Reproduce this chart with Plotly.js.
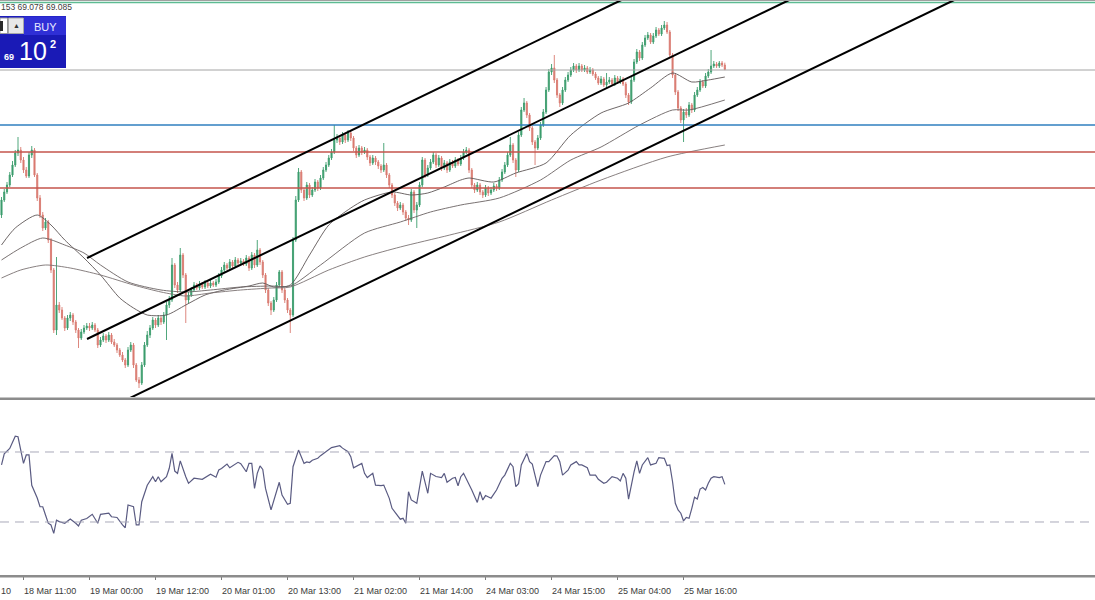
<!DOCTYPE html>
<html><head><meta charset="utf-8">
<script src="https://cdn.plot.ly/plotly-3.0.1.min.js"></script>
<style>html,body{margin:0;padding:0;background:#fff}#chart{width:1095px;height:600px}</style>
</head><body><div id="chart"></div>
<script>
// ---- 30-minute bars (index 0 = first visible bar) ----
const openP = [
67.63,67.78,67.86,67.93,68.03,68.13,68.25,68.28,68.18,68.08,
68.02,68.23,68.28,68.03,67.80,67.63,67.50,67.56,67.38,67.08,
66.48,66.73,66.68,66.60,66.50,66.60,66.63,66.56,66.48,66.40,
66.46,66.50,66.52,66.50,66.53,66.48,66.33,66.38,66.42,66.38,
66.43,66.36,66.33,66.28,66.23,66.18,66.13,66.28,66.33,66.13,
65.98,65.95,66.13,66.33,66.43,66.50,66.58,66.53,66.60,66.56,
66.63,66.73,66.78,67.13,66.93,66.88,67.23,67.03,66.78,66.83,
66.88,66.93,66.90,66.94,66.91,66.95,66.92,66.95,66.93,66.96,
67.02,67.08,67.13,67.10,67.16,67.12,67.18,67.15,67.17,67.14,
67.20,67.10,67.23,67.13,67.28,67.16,67.03,66.88,66.75,66.68,
66.78,66.93,67.06,66.88,66.78,66.68,66.63,67.38,67.78,68.06,
67.88,67.80,67.93,67.83,67.88,67.96,67.90,68.00,68.08,68.13,
68.20,68.26,68.38,68.40,68.36,68.43,68.38,68.45,68.40,68.30,
68.23,68.30,68.26,68.28,68.21,68.15,68.20,68.16,68.12,68.08,
68.13,68.03,67.93,67.83,67.75,67.70,67.73,67.66,67.60,67.58,
67.86,67.68,67.73,67.93,68.18,68.03,68.10,68.16,68.23,68.13,
68.20,68.10,68.15,68.08,68.16,68.12,68.18,68.14,68.20,68.26,
68.28,68.08,67.93,67.88,67.93,67.86,67.83,67.90,67.85,67.88,
67.92,67.90,67.98,68.06,68.13,68.23,68.33,68.18,68.08,68.43,
68.68,68.75,68.63,68.50,68.36,68.30,68.40,68.53,68.66,68.88,
69.06,69.10,68.98,68.83,68.75,68.88,68.98,69.03,69.08,69.12,
69.08,69.12,69.08,69.10,69.06,69.08,69.04,69.00,68.95,68.99,
68.93,68.96,68.98,68.94,69.00,68.96,68.99,68.94,68.83,68.76,
68.98,69.16,69.26,69.20,69.33,69.40,69.43,69.36,69.42,69.48,
69.44,69.50,69.53,69.46,69.23,69.03,68.86,68.70,68.58,68.66,
68.63,68.73,68.68,68.83,68.88,68.96,68.92,69.02,69.06,69.12,
69.14,69.12,69.15,69.13];
const highP = [
67.81,67.89,67.96,68.06,68.17,68.28,68.41,68.31,68.21,68.11,
68.26,68.32,68.30,68.05,67.83,67.66,67.60,67.58,67.40,67.10,
67.21,66.76,66.71,66.62,66.63,66.66,66.65,66.58,66.50,66.49,
66.53,66.55,66.55,66.56,66.55,66.50,66.41,66.45,66.44,66.46,
66.45,66.39,66.35,66.30,66.26,66.20,66.31,66.36,66.35,66.15,
66.01,66.16,66.36,66.47,66.53,66.61,66.60,66.63,66.62,66.66,
66.76,66.82,67.20,67.15,66.96,67.30,67.25,67.05,66.86,66.91,
66.96,66.95,66.97,66.96,66.98,66.97,66.98,66.97,66.99,67.05,
67.11,67.16,67.15,67.19,67.18,67.21,67.20,67.20,67.19,67.23,
67.22,67.26,67.25,67.38,67.30,67.18,67.05,66.90,66.77,66.81,
66.96,67.08,67.08,66.90,66.80,66.70,67.41,67.82,68.10,68.08,
67.90,67.96,67.95,67.91,67.99,67.98,68.03,68.11,68.16,68.23,
68.29,68.53,68.44,68.42,68.46,68.45,68.48,68.47,68.42,68.32,
68.33,68.32,68.31,68.30,68.23,68.23,68.22,68.18,68.14,68.35,
68.15,68.05,67.95,67.85,67.77,67.76,67.75,67.68,67.63,67.89,
67.88,67.76,67.96,68.21,68.20,68.13,68.19,68.26,68.25,68.23,
68.22,68.18,68.17,68.19,68.18,68.21,68.20,68.23,68.29,68.31,
68.30,68.10,67.95,67.96,67.95,67.88,67.93,67.92,67.91,67.95,
67.94,68.01,68.09,68.16,68.26,68.41,68.35,68.20,68.46,68.71,
68.80,68.77,68.65,68.52,68.38,68.43,68.56,68.69,68.91,69.09,
69.14,69.23,69.00,68.85,68.91,69.01,69.06,69.11,69.15,69.14,
69.15,69.14,69.13,69.12,69.11,69.10,69.06,69.02,69.02,69.01,
69.05,69.01,69.00,69.03,69.02,69.02,69.01,68.96,68.85,69.01,
69.19,69.29,69.28,69.36,69.43,69.46,69.45,69.45,69.51,69.50,
69.53,69.57,69.56,69.48,69.25,69.05,68.88,68.72,68.69,68.70,
68.76,68.75,68.86,68.91,68.99,68.98,69.05,69.09,69.28,69.17,
69.16,69.17,69.17,69.153];
const lowP = [
67.60,67.76,67.84,67.91,68.01,68.11,68.22,68.15,68.05,68.00,
68.00,68.20,68.01,67.77,67.60,67.47,67.48,67.35,67.05,66.45,
66.43,66.65,66.58,66.47,66.48,66.57,66.53,66.45,66.30,66.38,
66.44,66.48,66.47,66.48,66.46,66.30,66.31,66.36,66.35,66.36,
66.34,66.31,66.25,66.21,66.16,66.10,66.11,66.26,66.10,65.96,
65.90,65.93,66.11,66.31,66.40,66.48,66.50,66.51,66.53,66.54,
66.38,66.70,66.76,66.90,66.85,66.86,67.00,66.55,66.75,66.81,
66.86,66.88,66.88,66.89,66.89,66.90,66.90,66.91,66.91,66.94,
67.00,67.06,67.08,67.08,67.10,67.10,67.13,67.13,67.12,67.12,
67.07,67.08,67.10,67.11,67.13,67.00,66.85,66.72,66.63,66.66,
66.76,66.91,66.85,66.75,66.65,66.45,66.61,67.36,67.76,67.85,
67.77,67.78,67.80,67.81,67.86,67.87,67.88,67.98,68.06,68.11,
68.18,68.24,68.35,68.33,68.34,68.35,68.36,68.37,68.27,68.20,
68.21,68.23,68.24,68.18,68.12,68.13,68.13,68.09,68.05,68.06,
68.00,67.90,67.80,67.72,67.67,67.68,67.63,67.57,67.53,67.56,
67.65,67.50,67.71,67.91,68.00,68.01,68.08,68.14,68.10,68.11,
68.07,68.08,68.05,68.06,68.10,68.10,68.12,68.12,68.18,68.24,
68.05,67.90,67.85,67.86,67.83,67.80,67.81,67.82,67.83,67.86,
67.87,67.88,67.96,68.04,68.11,68.21,68.15,68.01,68.06,68.41,
68.66,68.60,68.47,68.33,68.13,68.28,68.38,68.51,68.64,68.86,
69.03,68.95,68.80,68.71,68.73,68.86,68.96,69.01,69.06,69.05,
69.06,69.06,69.06,69.04,69.04,69.02,68.98,68.93,68.93,68.91,
68.90,68.94,68.92,68.92,68.94,68.94,68.92,68.80,68.73,68.74,
68.96,69.14,69.17,69.18,69.31,69.38,69.34,69.34,69.40,69.42,
69.42,69.48,69.44,69.20,69.00,68.83,68.67,68.55,68.36,68.60,
68.61,68.65,68.66,68.81,68.86,68.90,68.90,69.00,69.04,69.10,
69.10,69.10,69.11,69.078];
const closeP = [
67.78,67.86,67.93,68.03,68.13,68.25,68.28,68.18,68.08,68.02,
68.23,68.28,68.03,67.80,67.63,67.50,67.56,67.38,67.08,66.48,
66.73,66.68,66.60,66.50,66.60,66.63,66.56,66.48,66.40,66.46,
66.50,66.52,66.50,66.53,66.48,66.33,66.38,66.42,66.38,66.43,
66.36,66.33,66.28,66.23,66.18,66.13,66.28,66.33,66.13,65.98,
65.95,66.13,66.33,66.43,66.50,66.58,66.53,66.60,66.56,66.63,
66.73,66.78,67.13,66.93,66.88,67.23,67.03,66.78,66.83,66.88,
66.93,66.90,66.94,66.91,66.95,66.92,66.95,66.93,66.96,67.02,
67.08,67.13,67.10,67.16,67.12,67.18,67.15,67.17,67.14,67.20,
67.10,67.23,67.13,67.28,67.16,67.03,66.88,66.75,66.68,66.78,
66.93,67.06,66.88,66.78,66.68,66.63,67.38,67.78,68.06,67.88,
67.80,67.93,67.83,67.88,67.96,67.90,68.00,68.08,68.13,68.20,
68.26,68.38,68.40,68.36,68.43,68.38,68.45,68.40,68.30,68.23,
68.30,68.26,68.28,68.21,68.15,68.20,68.16,68.12,68.08,68.13,
68.03,67.93,67.83,67.75,67.70,67.73,67.66,67.60,67.58,67.86,
67.68,67.73,67.93,68.18,68.03,68.10,68.16,68.23,68.13,68.20,
68.10,68.15,68.08,68.16,68.12,68.18,68.14,68.20,68.26,68.28,
68.08,67.93,67.88,67.93,67.86,67.83,67.90,67.85,67.88,67.92,
67.90,67.98,68.06,68.13,68.23,68.33,68.18,68.08,68.43,68.68,
68.75,68.63,68.50,68.36,68.30,68.40,68.53,68.66,68.88,69.06,
69.10,68.98,68.83,68.75,68.88,68.98,69.03,69.08,69.12,69.08,
69.12,69.08,69.10,69.06,69.08,69.04,69.00,68.95,68.99,68.93,
68.96,68.98,68.94,69.00,68.96,68.99,68.94,68.83,68.76,68.98,
69.16,69.26,69.20,69.33,69.40,69.43,69.36,69.42,69.48,69.44,
69.50,69.53,69.46,69.23,69.03,68.86,68.70,68.58,68.66,68.63,
68.73,68.68,68.83,68.88,68.96,68.92,69.02,69.06,69.12,69.14,
69.12,69.15,69.13,69.085];

// ---- time axis labels (bar index of each label) ----
const tickBars = [8,32,56,80,104,128,152,176,200,224,248];
const tickLabels = ["18 Mar 11:00","19 Mar 00:00","19 Mar 12:00","20 Mar 01:00","20 Mar 13:00","21 Mar 02:00","21 Mar 14:00","24 Mar 03:00","24 Mar 15:00","25 Mar 04:00","25 Mar 16:00"];

// ---- moving averages (sampled) ----
const ma1Bars = [0,5,13,18,23,30,36,43,48,53,60,67,74,81,90,95,99,105,112,119,127,132,142,149,155,161,167,170,179,187,198,207,218,228,236,244,251,257,263];
const ma1Vals = [67.33,67.50,67.63,67.53,67.38,67.20,67.03,66.80,66.70,66.63,66.63,66.73,66.83,66.88,66.92,66.95,66.91,66.93,67.23,67.53,67.70,67.78,67.86,67.83,67.85,67.91,67.98,68.00,67.96,68.05,68.15,68.43,68.65,68.75,68.90,69.05,68.96,68.98,69.01];
const ma2Bars = [0,7,15,23,30,36,46,58,67,76,87,98,105,116,132,145,156,167,181,196,207,218,232,244,250,263];
const ma2Vals = [67.18,67.30,67.40,67.33,67.25,67.13,66.96,66.88,66.86,66.88,66.91,66.92,66.92,67.13,67.45,67.56,67.66,67.73,67.80,67.98,68.18,68.31,68.53,68.68,68.68,68.78];
const ma3Bars = [0,7,16,25,36,48,58,67,76,87,98,105,119,132,145,163,181,200,218,242,263];
const ma3Vals = [67.00,67.08,67.13,67.10,67.03,66.93,66.86,66.82,66.85,66.88,66.90,66.91,67.08,67.21,67.31,67.43,67.56,67.78,67.98,68.21,68.33];

// ---- RSI (sampled) ----
const rsiBars = [0,1,3,5,6,8,9,10,11,13,14,15,16,17,18,19,20,21,23,25,27,28,29,31,33,35,36,39,40,42,44,45,46,48,49,50,51,53,55,56,57,58,60,61,62,63,64,65,67,68,70,73,76,78,79,80,82,83,86,87,89,90,91,92,93,94,95,96,98,99,101,102,104,105,106,108,110,111,112,113,115,116,118,120,123,124,126,127,128,130,131,132,133,135,136,138,139,141,142,145,146,147,148,149,151,153,155,156,158,160,161,162,164,165,166,167,168,171,173,174,175,176,178,180,182,183,185,186,187,188,189,191,192,193,195,196,198,199,201,202,203,204,206,207,209,210,211,213,214,216,217,219,220,222,224,225,226,227,228,230,231,232,233,235,236,238,239,241,242,243,244,245,246,247,248,249,250,251,252,253,254,255,256,257,258,259,261,262,263];
const rsiVals = [62.6,69,72,79,78.7,63.5,68.3,68.3,51,43.7,38.7,38.7,34,29.3,28.3,23.5,31,30.2,29.3,31.7,29.3,27.7,31,32,34.4,29.3,34.4,35,33,32.6,28.3,26.7,39.7,38.7,28.3,28.3,41.6,51,55.9,53,55.9,53,55.9,60.7,69.2,59.1,57.8,64.9,55.9,52.1,55,54.4,57.3,55.6,59.7,60.6,63.1,61,64.1,63.3,58.7,63.5,63.5,49.2,57.8,62,60,49.2,36.9,42.6,52.7,45.4,40.1,40.7,61.6,71.1,63.5,64.3,64,65.3,66.4,67.9,70.2,72.5,73.6,72.2,70.2,67.3,61,62.9,63.5,57.8,55.4,57.8,51.1,50.8,51.1,43.5,37.8,31.6,32.1,29.3,47.3,42.6,40.7,59.1,46.4,57.8,56,55.4,57.8,52.7,55,55.4,50.7,55.9,57.8,48.3,41.2,47.3,42.6,45.1,43.6,48.3,55,56.8,63.5,61.6,50.2,51.9,62.6,69.2,64.5,63.1,50.2,56.8,64.5,64.5,67.9,67.7,64.5,56.8,59.6,62.6,64.5,62.6,62.6,61,56.8,56.8,54.4,52.1,52.7,55.9,55,53.5,57.8,55,43.1,58.7,64.9,57.8,62.6,66.8,62.6,63.5,66.8,66.4,62.3,62.6,53,40.7,36.9,35,30.6,32.6,32.1,37.8,44.2,43.1,48.8,49.7,48.3,52.1,55,55.9,55.4,55.9,51.5];
const rsiLevels = [70, 30];

// ---- horizontal levels and channel ----
const levelPrices = [69.755, 69.08, 68.53, 68.26, 67.90];
const levelColors = ['#5dbb92', '#a4a4a4', '#2f7fbf', '#c4544c', '#c4544c'];
const channelStart = [[31.1, 67.20], [31.1, 66.39], [46.7, 65.80]];
const channelEnd   = [[225.4, 69.78], [286.4, 69.78], [346.4, 69.78]];

const W = 1095, H = 600;
const px = x => x / W, py = y => 1 - y / H;
const uiFont = '"Liberation Sans", Arial, sans-serif';
const barIdx = closeP.map((_, i) => i);

const traces = [
  {type:'candlestick', x:barIdx, open:openP, high:highP, low:lowP, close:closeP,
   xaxis:'x', yaxis:'y', whiskerwidth:0,
   increasing:{line:{color:'#3c9d6d', width:0.9}, fillcolor:'#3c9d6d'},
   decreasing:{line:{color:'#d97a70', width:0.9}, fillcolor:'#d97a70'},
   hoverinfo:'skip'},
  {type:'scatter', mode:'lines', x:ma1Bars, y:ma1Vals, xaxis:'x', yaxis:'y', line:{color:'#5e5656', width:0.9, shape:'spline', smoothing:0.7}, hoverinfo:'skip'},
  {type:'scatter', mode:'lines', x:ma2Bars, y:ma2Vals, xaxis:'x', yaxis:'y', line:{color:'#6a6262', width:0.9, shape:'spline', smoothing:0.7}, hoverinfo:'skip'},
  {type:'scatter', mode:'lines', x:ma3Bars, y:ma3Vals, xaxis:'x', yaxis:'y', line:{color:'#7a7272', width:0.9, shape:'spline', smoothing:0.7}, hoverinfo:'skip'},
  {type:'scatter', mode:'lines', x:rsiBars, y:rsiVals, xaxis:'x', yaxis:'y2', line:{color:'#5a5b82', width:1.2}, hoverinfo:'skip'}
];

const shapes = [];
levelPrices.forEach((p, k) => shapes.push({type:'line', xref:'paper', yref:'y', x0:0, x1:1, y0:p, y1:p, line:{color:levelColors[k], width: k === 1 ? 1 : 1.4}}));
channelStart.forEach((s, k) => shapes.push({type:'line', xref:'x', yref:'y', x0:s[0], y0:s[1], x1:channelEnd[k][0], y1:channelEnd[k][1], line:{color:'#000', width:2}}));
rsiLevels.forEach(v => shapes.push({type:'line', xref:'paper', yref:'y2', x0:0, x1:1, y0:v, y1:v, line:{color:'#a9a9b9', width:1, dash:'9px,6px'}}));
// panel separators and top border
shapes.push({type:'line', xref:'paper', yref:'paper', x0:0, x1:1, y0:py(0.5), y1:py(0.5), line:{color:'#a0a0a0', width:1}});
shapes.push({type:'line', xref:'paper', yref:'paper', x0:0, x1:1, y0:py(398.8), y1:py(398.8), line:{color:'#8c8c8c', width:2.5}});
shapes.push({type:'line', xref:'paper', yref:'paper', x0:0, x1:1, y0:py(576.3), y1:py(576.3), line:{color:'#8c8c8c', width:2.5}});
// one-click trading widget
const rect = (x0,y0,x1,y1,fill,lc) => ({type:'rect', xref:'paper', yref:'paper', x0:px(x0), x1:px(x1), y0:py(y1), y1:py(y0), fillcolor:fill, line:{color:lc||fill, width:lc?1:0}, layer:'above'});
shapes.push(rect(0,16,66,68,'#1d1dbd'));
shapes.push(rect(24,16.5,66,35,'#2f2fd6'));
shapes.push(rect(0,35,66,68,'#1a1ab6'));
shapes.push(rect(0,18,7.5,33.5,'#ffffff','#9a9a9a'));
shapes.push(rect(0,21,3,31,'#2a2a2a'));
shapes.push(rect(8.5,18,23.5,33.5,'#e8e8e8','#a8a8a8'));

const ann = (x,y,text,size,color,opts) => Object.assign({xref:'paper', yref:'paper', x:px(x), y:py(y), text, showarrow:false, xanchor:'center', yanchor:'middle', font:{family:uiFont, size, color}}, opts||{});
const annotations = [
  ann(-1, 7.5, '153 69.078 69.085', 8.5, '#404040', {xanchor:'left'}),
  ann(-1, 591, '10', 9, '#3a3a3a', {xanchor:'left'}),
  ann(16, 25.5, '▲', 7, '#333'),
  ann(45.5, 26.5, 'BUY', 11, '#e8e8ff'),
  ann(8.5, 57, '<b>69</b>', 9, '#ffffff'),
  ann(33, 51, '10', 25, '#ffffff'),
  ann(52.5, 44, '<b>2</b>', 11, '#ffffff')
];

const layout = {
  width:W, height:H, margin:{l:0, r:0, t:0, b:0},
  paper_bgcolor:'#ffffff', plot_bgcolor:'#ffffff', showlegend:false,
  boxgap:0.42,
  xaxis:{range:[-0.545, 397.6], anchor:'y2', tickmode:'array', tickvals:tickBars, ticktext:tickLabels,
         ticks:'outside', ticklen:4, tickcolor:'#7a7a7a', tickwidth:1, ticklabelposition:'outside right', tickangle:0,
         ticklabelstandoff:7,
         tickfont:{family:uiFont, size:9, color:'#3a3a3a'},
         showgrid:false, zeroline:false, showline:false, rangeslider:{visible:false}, fixedrange:true},
  yaxis:{domain:[1 - 397/600, 1], range:[65.81, 69.78], showticklabels:false, showgrid:false, zeroline:false, ticks:'', fixedrange:true},
  yaxis2:{domain:[1 - 575/600, 1 - 400/600], range:[-0.29, 99.71], showticklabels:false, showgrid:false, zeroline:false, ticks:'', fixedrange:true},
  shapes, annotations
};
Plotly.newPlot('chart', traces, layout, {staticPlot:true, displayModeBar:false});
</script></body></html>
